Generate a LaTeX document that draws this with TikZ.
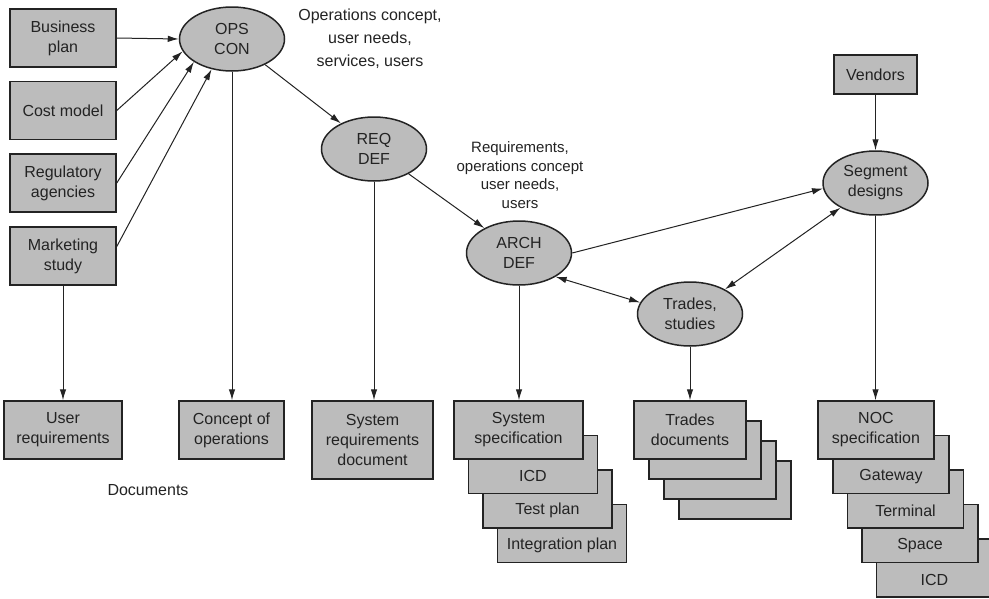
\documentclass[tikz,border=0pt]{standalone}
\usepackage{fontspec}
\setmainfont{Liberation Sans}
\usetikzlibrary{arrows.meta,shapes.geometric}
\definecolor{boxgray}{RGB}{188,188,188}
\definecolor{inkc}{RGB}{35,35,35}
\begin{document}
\begin{tikzpicture}[x=1pt,y=-1pt,
  every node/.style={font=\fontsize{16}{20}\selectfont, text=inkc},
  docbox/.style 2 args={draw=inkc, line width=1.5pt, fill=boxgray, inner sep=0pt,
    align=center, minimum width=#1, minimum height=#2},
  proc/.style={ellipse, draw=inkc, line width=1.5pt, fill=boxgray, inner sep=0pt,
    align=center, minimum width=105pt, minimum height=64pt},
  plain/.style={inner sep=0pt, align=center},
  conn/.style={draw=inkc, line width=1pt, -{Latex[length=11pt,width=6.5pt]}},
  dconn/.style={draw=inkc, line width=1pt, {Latex[length=11pt,width=6.5pt]}-{Latex[length=11pt,width=6.5pt]}}
]
\clip (0,0) rectangle (989,598);
\fill[white] (0,0) rectangle (989,598);

% left input boxes
\node[docbox={106pt}{58pt}] (bp) at (63,38) {Business\\plan};
\node[docbox={106pt}{58pt}] (cm) at (63,110.5) {Cost model};
\node[docbox={106pt}{58pt}] (ra) at (63,183) {Regulatory\\agencies};
\node[docbox={106pt}{58pt}] (ms) at (63,256) {Marketing\\study};

% processes
\node[proc] (ops) at (232,39) {OPS\\CON};
\node[proc] (req) at (374,149) {REQ\\DEF};
\node[proc] (arch) at (519,253) {ARCH\\DEF};
\node[proc] (seg) at (875.5,183) {Segment\\designs};
\node[proc] (tr) at (690,314) {Trades,\\studies};

\node[docbox={83pt}{39pt}] (vend) at (875.5,74.5) {Vendors};

% labels
\node[plain, anchor=north, font=\fontsize{16}{23}\selectfont] (lab1) at (370,8.4)
  {Operations concept,\\user needs,\\services, users};
\node[plain, anchor=north, font=\fontsize{15}{18.7}\selectfont] (lab2) at (520,141.3)
  {Requirements,\\operations concept\\user needs,\\users};

% bottom documents
\node[docbox={118pt}{58pt}] (ur) at (63,430) {User\\requirements};
\node[docbox={105pt}{58pt}] (con) at (231.5,430) {Concept of\\operations};
\node[docbox={121pt}{78pt}] (srd) at (372.5,440) {System\\requirements\\document};
\node[plain] (docs) at (148,490) {Documents};

% system specification stack (back to front)
\node[docbox={129pt}{58pt}] (sys3) at (562,533.5) {};
\node[plain] (sys3t) at (562,545.3) {Integration plan};
\node[docbox={129pt}{58pt}] (sys2) at (547.5,499) {};
\node[plain] (sys2t) at (547.5,510.8) {Test plan};
\node[docbox={129pt}{58pt}] (sys1) at (533,464.5) {};
\node[plain] (sys1t) at (533,476.3) {ICD};
\node[docbox={129pt}{58pt}] (sys) at (518.5,430) {System\\specification};

% trades documents stack
\node[docbox={112pt}{58pt}] (td3) at (735,490) {};
\node[docbox={112pt}{58pt}] (td2) at (720,470) {};
\node[docbox={112pt}{58pt}] (td1) at (705,450) {};
\node[docbox={112pt}{58pt}] (td) at (690,430) {Trades\\documents};

% NOC stack
\node[docbox={116pt}{58pt}] (noc4) at (934.5,568) {};
\node[plain] (noc4t) at (934.5,579.8) {ICD};
\node[docbox={116pt}{58pt}] (noc3) at (920,533.5) {};
\node[plain] (noc3t) at (920,545.3) {Space};
\node[docbox={116pt}{58pt}] (noc2) at (905.5,499) {};
\node[plain] (noc2t) at (905.5,510.8) {Terminal};
\node[docbox={116pt}{58pt}] (noc1) at (891,464.5) {};
\node[plain] (noc1t) at (891,476.3) {Gateway};
\node[docbox={116pt}{58pt}] (noc) at (876,430) {NOC\\specification};

% connectors
\draw[conn] (bp.east) -- (ops.west);
\draw[conn] (cm.east) -- (ops.194);
\draw[conn] (ra.east) -- (ops.211);
\draw[conn] (ms.10) -- (ops.236);
\draw[conn] (ops.south) -- (ops.south |- con.north);
\draw[conn] (ms.south) -- (ms.south |- ur.north);
\draw[conn] (ops) -- (req);
\draw[conn] (req.south) -- (req.south |- srd.north);
\draw[conn] (req) -- (arch);
\draw[conn] (arch.south) -- (arch.south |- sys.north);
\draw[conn] (arch.east) -- (seg.186);
\draw[dconn] (arch.327) -- (tr.167);
\draw[dconn] (tr) -- (seg);
\draw[conn] (tr.south) -- (tr.south |- td.north);
\draw[conn] (vend.south) -- (seg.north);
\draw[conn] (seg.south) -- (seg.south |- noc.north);
\end{tikzpicture}
\end{document}
